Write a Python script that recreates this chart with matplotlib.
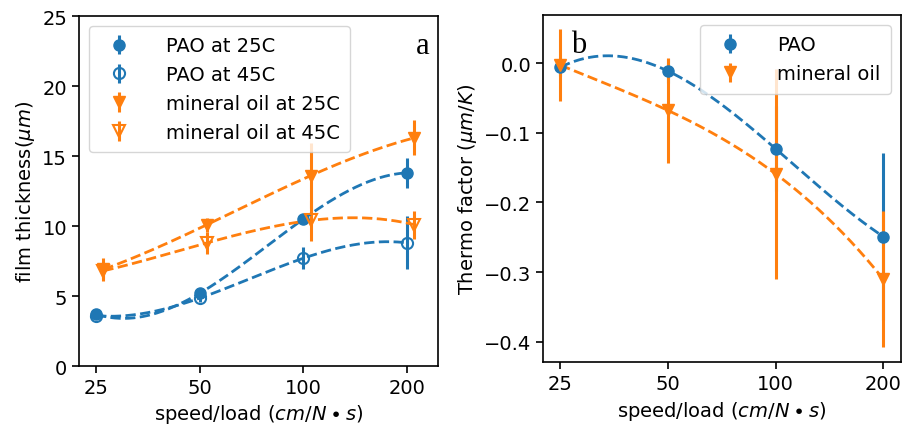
# -*- coding: utf-8 -*-
import numpy as np
import matplotlib
matplotlib.use('Agg')
import matplotlib.pyplot as plt
import matplotlib.ticker as ticker

speed = [25, 50, 100, 200]

# panel a: film thickness (um)
pao_25 = [3.7, 5.2, 10.5, 13.8]
pao_25_err = [0.2, 0.3, 0.3, 1.05]
pao_45 = [3.6, 4.85, 7.7, 8.8]
pao_45_err = [0.2, 0.25, 0.8, 1.9]
min_25 = [6.9, 10.1, 13.6, 16.3]
min_25_err = [0.85, 0.5, 2.3, 1.25]
min_45 = [6.8, 8.8, 10.4, 10.1]
min_45_err = [0.6, 0.8, 1.45, 1.0]

# panel b: thermo factor (um/K)
pao_tf = [-0.006, -0.0115, -0.123, -0.249]
pao_tf_err = [0.013, 0.017, 0.061, 0.12]
min_tf = [-0.003, -0.068, -0.159, -0.31]
min_tf_err = [0.052, 0.075, 0.151, 0.098]

blue = '#1f77b4'
orange = '#ff7f0e'
shift = 1.05  # mineral oil points drawn a bit to the right in panel a
fs = 14


def fit_line(ax, x, y, color):
    # cubic fit in log2(x), as in the original figure
    p = np.polyfit(np.log2(x), y, 3)
    xs = np.geomspace(min(x), max(x), 200)
    ax.plot(xs, np.polyval(p, np.log2(xs)), '--', color=color, lw=2)


def setup_x(ax):
    ax.set_xscale('log', base=2)
    ax.xaxis.set_major_locator(ticker.FixedLocator(speed))
    ax.xaxis.set_major_formatter(ticker.FixedFormatter([str(s) for s in speed]))
    ax.xaxis.set_minor_locator(ticker.NullLocator())
    ax.set_xlabel(r'speed/load $(cm/N \bullet s)$', fontsize=fs)
    ax.tick_params(labelsize=fs, width=1.2, length=5)
    for s in ax.spines.values():
        s.set_linewidth(1.2)


fig = plt.figure(figsize=(9.04, 4.27), dpi=100)
ax1 = fig.add_axes([0.0874, 0.1405, 0.3971, 0.8195])
ax2 = fig.add_axes([0.601, 0.149, 0.3953, 0.8135])

eb = dict(ms=8, elinewidth=2.2, capsize=0, ls='none')
x_min = [s * shift for s in speed]
ax1.errorbar(speed, pao_25, yerr=pao_25_err, fmt='o', color=blue, label='PAO at 25C', **eb)
ax1.errorbar(speed, pao_45, yerr=pao_45_err, fmt='o', color=blue, mfc='none', mew=1.5,
             label='PAO at 45C', **eb)
ax1.errorbar(x_min, min_25, yerr=min_25_err, fmt='v', color=orange, label='mineral oil at 25C', **eb)
ax1.errorbar(x_min, min_45, yerr=min_45_err, fmt='v', color=orange, mfc='none', mew=1.5,
             label='mineral oil at 45C', **eb)
fit_line(ax1, speed, pao_25, blue)
fit_line(ax1, speed, pao_45, blue)
fit_line(ax1, x_min, min_25, orange)
fit_line(ax1, x_min, min_45, orange)
setup_x(ax1)
ax1.set_xlim(22.3, 246)
ax1.set_ylim(0, 25)
ax1.set_ylabel(r'film thickness($\mu m$)', fontsize=fs)
ax1.legend(loc='upper left', fontsize=fs, handletextpad=1.4, borderpad=0.55,
           labelspacing=0.5, borderaxespad=0.5)
ax1.text(0.958, 0.915, 'a', transform=ax1.transAxes, ha='center', va='center',
         fontsize=22, family='Liberation Serif')

ax2.errorbar(speed, pao_tf, yerr=pao_tf_err, fmt='o', color=blue, label='PAO', **eb)
ax2.errorbar(speed, min_tf, yerr=min_tf_err, fmt='v', color=orange, label='mineral oil', **eb)
fit_line(ax2, speed, pao_tf, blue)
fit_line(ax2, speed, min_tf, orange)
setup_x(ax2)
ax2.set_xlim(22.4, 223.7)
ax2.set_ylim(-0.4296, 0.069)
ax2.yaxis.set_major_locator(ticker.MultipleLocator(0.1))
ax2.set_ylabel(r'Thermo factor $(\mu m/K)$', fontsize=fs)
ax2.legend(loc='upper right', fontsize=fs, handletextpad=1.4, borderpad=0.55,
           labelspacing=0.5, borderaxespad=0.5)
ax2.text(0.1, 0.915, 'b', transform=ax2.transAxes, ha='center', va='center',
         fontsize=22, family='Liberation Serif')

fig.savefig('out.png', dpi=100)
